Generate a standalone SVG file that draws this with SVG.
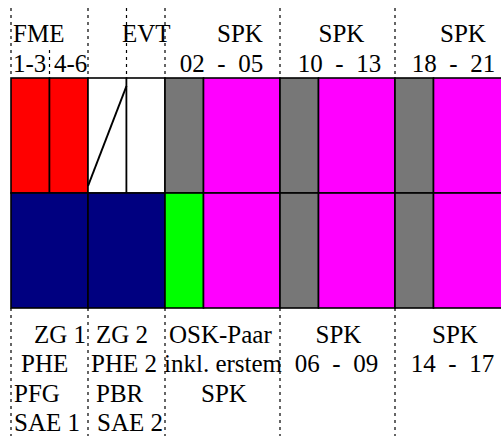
<svg xmlns="http://www.w3.org/2000/svg" width="501" height="436" viewBox="0 0 501 436">
  <style>
    .cell { stroke: #000; stroke-width: 1.6; }
    .red { fill: #ff0000; }
    .navy { fill: #000080; }
    .grey { fill: #777777; }
    .mag { fill: #ff00ff; }
    .green { fill: #00ff00; }
    .white { fill: #ffffff; }
    .guide { stroke: #000; stroke-width: 1.2; stroke-dasharray: 3 4; fill: none; }
    text { white-space: pre; }
    .mid { text-anchor: middle; }
  </style>
  <rect width="501" height="436" fill="#fff"/>

  <!-- dashed column guides -->
  <g id="guides">
    <line class="guide" x1="11" y1="8" x2="11" y2="78"/>
    <line class="guide" x1="49.5" y1="50" x2="49.5" y2="78"/>
    <line class="guide" x1="88" y1="8" x2="88" y2="78"/>
    <line class="guide" x1="126.5" y1="8" x2="126.5" y2="78"/>
    <line class="guide" x1="165" y1="8" x2="165" y2="78"/>
    <line class="guide" x1="280" y1="8" x2="280" y2="78"/>
    <line class="guide" x1="395" y1="8" x2="395" y2="78"/>
    <line class="guide" x1="11" y1="308" x2="11" y2="436"/>
    <line class="guide" x1="88" y1="308" x2="88" y2="436"/>
    <line class="guide" x1="165" y1="308" x2="165" y2="436"/>
    <line class="guide" x1="280" y1="308" x2="280" y2="436"/>
    <line class="guide" x1="395" y1="308" x2="395" y2="436"/>
  </g>

  <g font-family="Liberation Serif, serif" font-size="25" fill="#000">
  <!-- upper row -->
  <g id="fme">
    <rect class="cell red" x="11" y="78" width="38.5" height="115"/>
    <rect class="cell red" x="49.5" y="78" width="38.5" height="115"/>
    <text x="13" y="42">FME</text>
    <text x="13" y="72">1-3</text>
    <text x="54" y="72">4-6</text>
  </g>
  <g id="evt">
    <rect class="cell white" x="88" y="78" width="38.5" height="115"/>
    <rect class="cell white" x="126.5" y="78" width="38.5" height="115"/>
    <line x1="88" y1="186" x2="126.5" y2="86" stroke="#000" stroke-width="2"/>
    <text x="122" y="42">EVT</text>
  </g>
  <g id="spk-02-05">
    <rect class="cell grey" x="165" y="78" width="38.5" height="115"/>
    <rect class="cell mag" x="203.5" y="78" width="76.5" height="115"/>
    <text class="mid" x="240" y="42">SPK</text>
    <text class="mid" x="221.5" y="72" xml:space="preserve">02  -  05</text>
  </g>
  <g id="spk-10-13">
    <rect class="cell grey" x="280" y="78" width="38.5" height="115"/>
    <rect class="cell mag" x="318.5" y="78" width="76.5" height="115"/>
    <text class="mid" x="341.5" y="42">SPK</text>
    <text class="mid" x="339.5" y="72" xml:space="preserve">10  -  13</text>
  </g>
  <g id="spk-18-21">
    <rect class="cell grey" x="395" y="78" width="38.5" height="115"/>
    <rect class="cell mag" x="433.5" y="78" width="80" height="115"/>
    <text class="mid" x="463" y="42">SPK</text>
    <text class="mid" x="453.5" y="72" xml:space="preserve">18  -  21</text>
  </g>

  <!-- lower row -->
  <g id="zg1">
    <rect class="cell navy" x="11" y="193" width="77" height="115"/>
    <text x="34" y="343">ZG 1</text>
    <text x="21" y="372">PHE</text>
    <text x="14" y="402">PFG</text>
    <text x="14" y="431">SAE 1</text>
  </g>
  <g id="zg2">
    <rect class="cell navy" x="88" y="193" width="77" height="115"/>
    <text x="96" y="343">ZG 2</text>
    <text x="91" y="372">PHE 2</text>
    <text x="96" y="402">PBR</text>
    <text x="97" y="431">SAE 2</text>
  </g>
  <g id="osk-paar">
    <rect class="cell green" x="165" y="193" width="38.5" height="115"/>
    <rect class="cell mag" x="203.5" y="193" width="76.5" height="115"/>
    <text x="169" y="343">OSK-Paar</text>
    <text x="164" y="372">inkl. erstem</text>
    <text class="mid" x="224" y="402">SPK</text>
  </g>
  <g id="spk-06-09">
    <rect class="cell grey" x="280" y="193" width="38.5" height="115"/>
    <rect class="cell mag" x="318.5" y="193" width="76.5" height="115"/>
    <text class="mid" x="338.5" y="343">SPK</text>
    <text class="mid" x="336.5" y="372" xml:space="preserve">06  -  09</text>
  </g>
  <g id="spk-14-17">
    <rect class="cell grey" x="395" y="193" width="38.5" height="115"/>
    <rect class="cell mag" x="433.5" y="193" width="80" height="115"/>
    <text class="mid" x="455" y="343">SPK</text>
    <text class="mid" x="452.5" y="372" xml:space="preserve">14  -  17</text>
  </g>
  </g>
</svg>
